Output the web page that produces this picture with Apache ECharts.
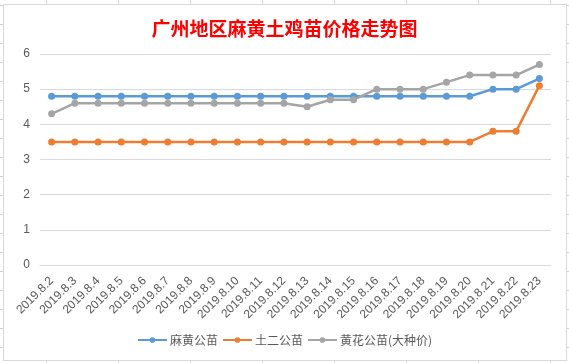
<!DOCTYPE html>
<html>
<head>
<meta charset="utf-8">
<script src="https://cdn.jsdelivr.net/npm/echarts@6/dist/echarts.min.js"></script>
<style>
html,body{margin:0;padding:0;width:569px;height:363px;overflow:hidden;background:#fff;}
#sheet{position:absolute;left:0;top:0;width:569px;height:363px;
background-image:
 repeating-linear-gradient(to right, transparent 0, transparent 46px, #d4d4d4 46px, #d4d4d4 47px, transparent 47px, transparent 72px),
 repeating-linear-gradient(to bottom, transparent 0, transparent 5px, #d4d4d4 5px, #d4d4d4 6px, transparent 6px, transparent 19px);
}
#box{position:absolute;left:3px;top:4px;width:562px;height:355px;border:1px solid #d9d9d9;background:#fff;}
#chart{position:absolute;left:0;top:0;width:569px;height:363px;}
</style>
</head>
<body>
<div id="sheet"></div>
<div id="box"></div>
<div id="chart"></div>
<script>
var categories = ['2019.8.2','2019.8.3','2019.8.4','2019.8.5','2019.8.6','2019.8.7','2019.8.8','2019.8.9','2019.8.10','2019.8.11','2019.8.12','2019.8.13','2019.8.14','2019.8.15','2019.8.16','2019.8.17','2019.8.18','2019.8.19','2019.8.20','2019.8.21','2019.8.22','2019.8.23'];
var mahuang = [4.8,4.8,4.8,4.8,4.8,4.8,4.8,4.8,4.8,4.8,4.8,4.8,4.8,4.8,4.8,4.8,4.8,4.8,4.8,5.0,5.0,5.3];
var tuer = [3.5,3.5,3.5,3.5,3.5,3.5,3.5,3.5,3.5,3.5,3.5,3.5,3.5,3.5,3.5,3.5,3.5,3.5,3.5,3.8,3.8,5.1];
var huanghua = [4.3,4.6,4.6,4.6,4.6,4.6,4.6,4.6,4.6,4.6,4.6,4.5,4.7,4.7,5.0,5.0,5.0,5.2,5.4,5.4,5.4,5.7];
var seriesNames = ['麻黄公苗','土二公苗','黄花公苗(大种价)'];
var colors = ['#5b9bd5','#ed7d31','#a5a5a5'];

var chart = echarts.init(document.getElementById('chart'), null, {renderer:'canvas'});
function mk(name, data, color){
  return {name:name, type:'line', data:data, symbol:'circle', symbolSize:7,
    lineStyle:{width:2.5,color:color}, itemStyle:{color:color}, animation:false};
}
chart.setOption({
  backgroundColor:'transparent',
  animation:false,
  title:{text:'广州地区麻黄土鸡苗价格走势图', left:'center', top:14,
    textStyle:{color:'#ff0000', fontSize:19, fontWeight:'bold', fontFamily:'Noto Sans CJK SC'}},
  legend:{bottom:12, left:'center', itemWidth:29, itemHeight:7, itemGap:4,
    data:seriesNames,
    textStyle:{color:'#595959', fontSize:12, fontFamily:'Noto Sans CJK SC', padding:[0,0,0,-2]}},
  grid:{left:40, right:18, top:54, bottom:98, containLabel:false},
  xAxis:{type:'category', data:categories, boundaryGap:true,
    axisLine:{show:true, lineStyle:{color:'#d9d9d9'}}, axisTick:{show:false},
    axisLabel:{rotate:45, interval:0, margin:14, color:'#595959', fontSize:12, fontFamily:'Liberation Sans'}},
  yAxis:{type:'value', min:0, max:6, interval:1,
    axisLine:{show:false}, axisTick:{show:false},
    splitLine:{lineStyle:{color:'#d9d9d9'}},
    axisLabel:{color:'#595959', fontSize:12, margin:10, fontFamily:'Liberation Sans'}},
  series:[mk(seriesNames[0], mahuang, colors[0]), mk(seriesNames[1], tuer, colors[1]), mk(seriesNames[2], huanghua, colors[2])]
});
</script>
</body>
</html>
